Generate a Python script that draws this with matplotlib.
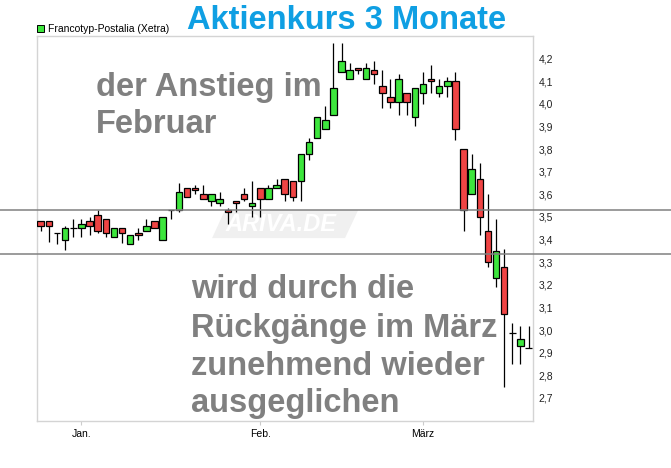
import numpy as np
import matplotlib
matplotlib.use("Agg")
import matplotlib.pyplot as plt
from matplotlib.patches import Polygon, Rectangle
from matplotlib.lines import Line2D
from matplotlib import transforms

plt.rcParams['font.family'] = ['Liberation Sans', 'DejaVu Sans']

# Kursdaten (Xetra)
opens = [3.48, 3.48, 3.43, 3.40, 3.45, 3.45, 3.48, 3.51, 3.49, 3.41,
         3.45, 3.38, 3.43, 3.44, 3.48, 3.40, 3.53, 3.53, 3.63, 3.63,
         3.60, 3.57, 3.56, 3.53, 3.57, 3.60, 3.55, 3.63, 3.58, 3.63,
         3.67, 3.66, 3.66, 3.78, 3.85, 3.89, 3.95, 4.14, 4.11, 4.16,
         4.11, 4.15, 4.08, 4.03, 4.01, 4.05, 3.94, 4.05, 4.11, 4.05,
         4.08, 4.10, 3.80, 3.60, 3.67, 3.44, 3.23, 3.28, 2.985, 2.93, 2.92]
highs = [3.48, 3.48, 3.43, 3.46, 3.49, 3.49, 3.50, 3.53, 3.49, 3.45,
         3.45, 3.42, 3.45, 3.49, 3.48, 3.50, 3.53, 3.65, 3.63, 3.64,
         3.64, 3.60, 3.61, 3.54, 3.57, 3.63, 3.66, 3.63, 3.64, 3.67,
         3.67, 3.66, 3.78, 3.85, 3.94, 3.99, 4.27, 4.27, 4.18, 4.16,
         4.18, 4.19, 4.15, 4.11, 4.13, 4.05, 4.07, 4.14, 4.17, 4.11,
         4.12, 4.14, 3.80, 3.78, 3.74, 3.60, 3.49, 3.36, 3.03, 3.02, 3.02]
lows = [3.44, 3.39, 3.38, 3.355, 3.41, 3.41, 3.42, 3.43, 3.41, 3.41,
        3.385, 3.38, 3.40, 3.44, 3.45, 3.40, 3.49, 3.52, 3.59, 3.60,
        3.58, 3.55, 3.55, 3.47, 3.52, 3.57, 3.50, 3.50, 3.58, 3.63,
        3.57, 3.57, 3.57, 3.75, 3.85, 3.89, 3.95, 4.14, 4.11, 4.13,
        4.11, 4.09, 3.98, 3.98, 3.95, 3.95, 3.90, 4.00, 4.05, 4.03,
        4.03, 3.84, 3.44, 3.60, 3.42, 3.28, 3.19, 2.75, 2.85, 2.85, 2.92]
closes = [3.46, 3.46, 3.43, 3.45, 3.45, 3.47, 3.46, 3.44, 3.43, 3.45,
          3.43, 3.42, 3.42, 3.46, 3.45, 3.50, 3.53, 3.61, 3.59, 3.62,
          3.58, 3.60, 3.58, 3.52, 3.56, 3.58, 3.56, 3.58, 3.63, 3.64,
          3.60, 3.59, 3.78, 3.83, 3.94, 3.93, 4.07, 4.19, 4.15, 4.15,
          4.16, 4.13, 4.05, 4.01, 4.11, 4.01, 4.07, 4.09, 4.10, 4.08,
          4.10, 3.89, 3.53, 3.71, 3.50, 3.30, 3.35, 3.07, 2.985, 2.96, 2.92]

month_pos = [5, 27, 47]
month_labels = ['Jan.', 'Feb.', 'März']
y_ticks = [2.7, 2.8, 2.9, 3.0, 3.1, 3.2, 3.3, 3.4, 3.5, 3.6, 3.7, 3.8, 3.9, 4.0, 4.1, 4.2]
marker_levels = [3.532, 3.337]

o = np.array(opens); h = np.array(highs); l = np.array(lows); c = np.array(closes)
x = np.arange(len(o))

W, H = 671, 468
fig = plt.figure(figsize=(W / 100, H / 100), dpi=100)
ax = fig.add_axes([37 / W, 1 - 421 / H, (533 - 37) / W, (421 - 36) / H])

green = '#3de63d'
red = '#ef4444'

# Wasserzeichen
ax.add_patch(Polygon([[0.379, 0.548], [0.6476, 0.548], [0.621, 0.475], [0.353, 0.475]],
                     closed=True, transform=ax.transAxes, facecolor='#f0f0f0',
                     edgecolor='none', zorder=0))
ax.text(0.492, 0.511, 'ARIVA.DE', transform=ax.transAxes, ha='center', va='center',
        fontsize=17, fontweight='bold', style='italic', color='white', zorder=0.5)

# Dochte
ax.vlines(x, l, h, color='black', lw=0.9, zorder=2)
# Kerzenkörper
up = c > o
down = c < o
flat = c == o
ax.bar(x[up], (c - o)[up], bottom=o[up], width=0.8, color=green,
       edgecolor='black', lw=0.9, zorder=3)
ax.bar(x[down], (o - c)[down], bottom=c[down], width=0.8, color=red,
       edgecolor='black', lw=0.9, zorder=3)
ax.hlines(o[flat], x[flat] - 0.4, x[flat] + 0.4, color='black', lw=0.9, zorder=3)

ax.set_xlim(-0.46, 60.54)
ax.set_ylim(2.598, 4.30)

ax.yaxis.tick_right()
ax.set_yticks(y_ticks)
ax.set_yticklabels([('%.1f' % v).replace('.', ',') for v in y_ticks])
ax.tick_params(axis='y', length=0, pad=4, labelsize=7.5, labelcolor='#222222')
ax.set_xticks(month_pos)
ax.set_xticklabels(month_labels)
ax.tick_params(axis='x', length=3, color='#cccccc', pad=3, labelsize=7.5)
for s in ax.spines.values():
    s.set_color('#d4d4d4')
    s.set_linewidth(1)

# graue Markierungslinien über die ganze Breite
tr = transforms.blended_transform_factory(fig.transFigure, ax.transData)
for lv in marker_levels:
    fig.add_artist(Line2D([0, 1], [lv, lv], transform=tr, color='#808080', lw=1.1, zorder=5))

# Legende
fig.add_artist(Rectangle((37 / W, 1 - 32 / H), 7 / W, 7 / H, transform=fig.transFigure,
                         facecolor=green, edgecolor='black', lw=0.7))
fig.text(48 / W, 1 - 28.5 / H, 'Francotyp-Postalia (Xetra)', fontsize=7.5,
         va='center', ha='left', color='black')

# Titel
fig.text(347 / W, 1 - 29 / H, 'Aktienkurs 3 Monate', fontsize=23.5, fontweight='bold',
         color='#0f9fe3', ha='center', va='baseline')

# Kommentar
gray = '#808080'
for txt, px, py in [('der Anstieg im', 96, 96), ('Februar', 96, 133),
                    ('wird durch die', 191, 298), ('Rückgänge im März', 191, 337),
                    ('zunehmend wieder', 191, 375), ('ausgeglichen', 191, 412)]:
    fig.text(px / W, 1 - py / H, txt, fontsize=23.5, fontweight='bold', color=gray,
             ha='left', va='baseline', zorder=6)

fig.savefig('out.png', dpi=100)
